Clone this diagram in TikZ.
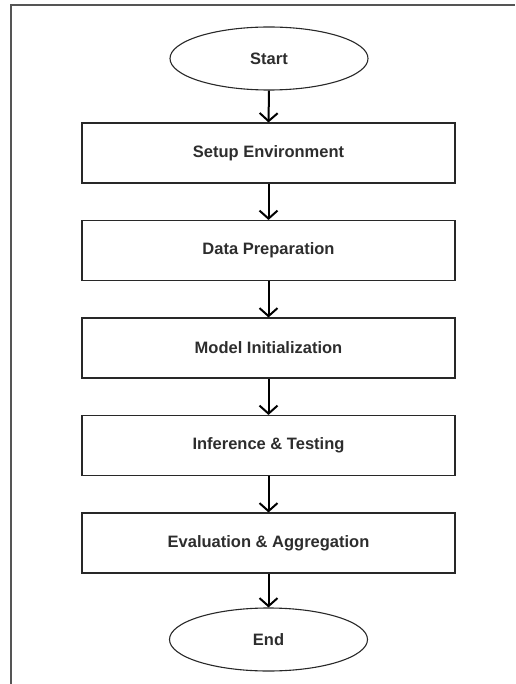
\documentclass[tikz,border=0pt]{standalone}
\usepackage{fontspec}
\setmainfont{Liberation Sans}
\usepackage{tikz}
\usetikzlibrary{shapes.geometric, arrows.meta, positioning}
\definecolor{flowline}{RGB}{40,40,40}
\definecolor{flowtext}{RGB}{45,45,45}
\definecolor{framegray}{RGB}{85,85,85}

\begin{document}
\begin{tikzpicture}[
    x=1pt, y=-1pt,
    terminal/.style={ellipse, draw=flowline, line width=1.1pt, minimum width=198pt, minimum height=63pt, inner sep=0pt},
    stepbox/.style={rectangle, draw=flowline, line width=1.1pt, minimum width=373pt, minimum height=60pt, inner sep=0pt},
    every node/.style={font=\fontsize{16.5}{19}\selectfont\bfseries, text=flowtext},
    flowarrow/.style={-{Straight Barb[length=8pt, width=18pt, line width=2pt]}, line width=2pt, black}
]

% Page and outer frame
\useasboundingbox (0,0) rectangle (515,684);
\draw[framegray, line width=1.5pt] (11,684) -- (11,5) -- (515,5);

% Start / End
\node[terminal] (start) at (269,58.5) {Start};
\node[terminal] (end) at (268.5,639.5) {End};

% Process steps
\node[stepbox] (setup) at (268.5,153) {Setup Environment};
\node[stepbox] (data) at (268.5,250.5) {Data Preparation};
\node[stepbox] (model) at (268.5,348) {Model Initialization};
\node[stepbox] (infer) at (268.5,445.5) {Inference \& Testing};
\node[stepbox] (eval) at (268.5,543) {Evaluation \& Aggregation};

% Arrows
\foreach \a/\b in {start/setup, setup/data, data/model, model/infer, infer/eval, eval/end}
    \draw[flowarrow] (\a.south) -- (\b.north);

\end{tikzpicture}
\end{document}
